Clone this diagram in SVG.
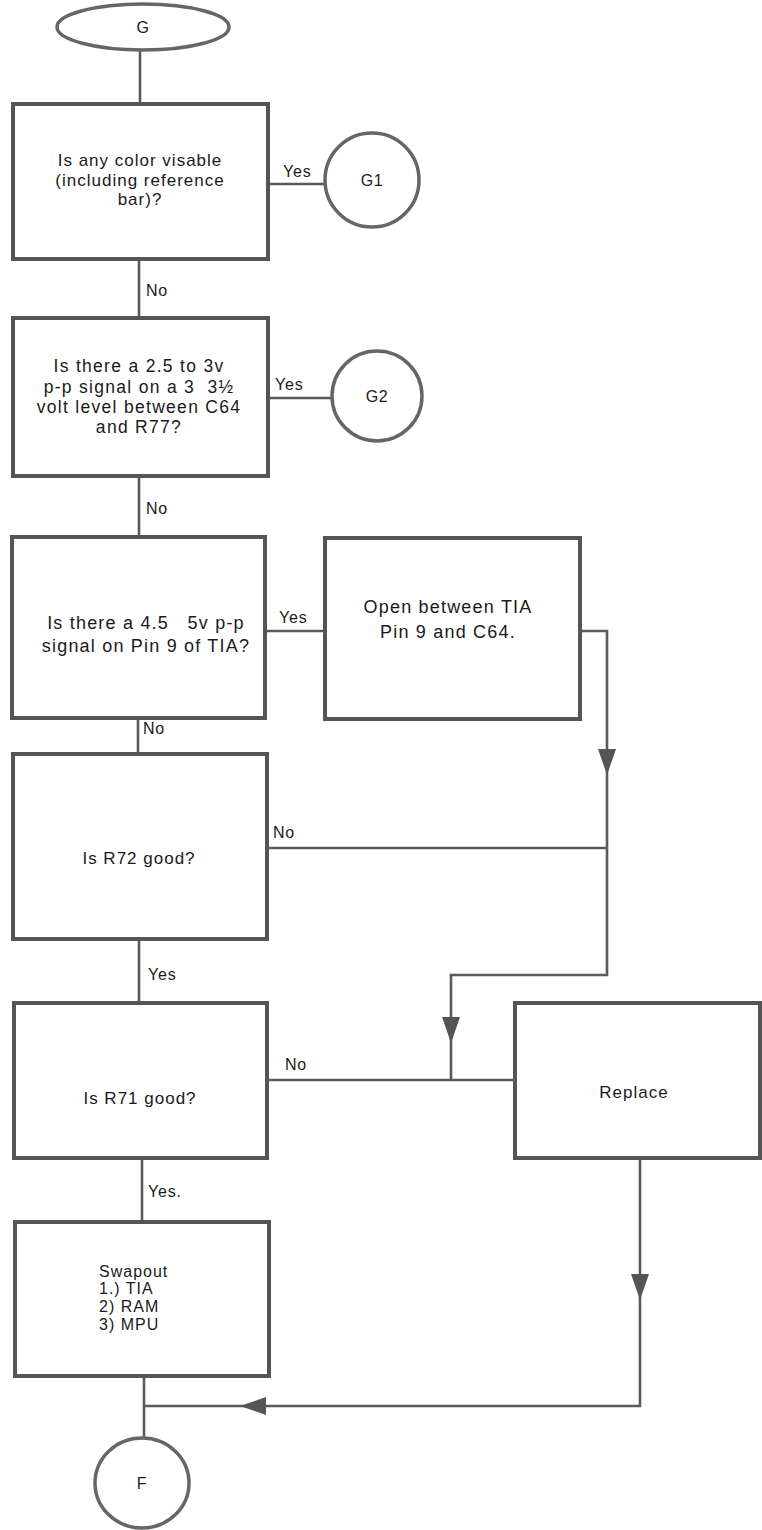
<svg xmlns="http://www.w3.org/2000/svg" width="762" height="1530" viewBox="0 0 762 1530">
<style>
.box{fill:#fff;stroke:#555;stroke-width:4}
.term{fill:#fff;stroke:#666;stroke-width:3.5}
.conn{fill:none;stroke:#5a5a5a;stroke-width:2.6}
text{font-family:"Liberation Sans","DejaVu Sans",sans-serif;fill:#1a1a1a}
.t17{font-size:17px;letter-spacing:1px;text-anchor:middle}
.t175{font-size:17.5px;letter-spacing:1.3px;text-anchor:middle}
.t18{font-size:18px;letter-spacing:1.2px;text-anchor:middle}
.sw{font-size:16px;letter-spacing:1px}
.lbl{font-size:16px;letter-spacing:0.8px}
.sym{font-size:16px;letter-spacing:0.5px;text-anchor:middle}
</style>
<defs>
<marker id="arr" markerUnits="userSpaceOnUse" markerWidth="26" markerHeight="18" refX="26" refY="9" orient="auto">
<path d="M0,0 L26,9 L0,18 Z" fill="#555"/>
</marker>
</defs>
<rect width="762" height="1530" fill="#fff"/>
<g id="connectors">
<path class="conn" d="M140,50 V104"/>
<path class="conn" d="M268,184 H325"/>
<path class="conn" d="M139,259 V318"/>
<path class="conn" d="M268,398 H332"/>
<path class="conn" d="M139,476 V537"/>
<path class="conn" d="M265,631 H325"/>
<path class="conn" d="M138,718 V754"/>
<path class="conn" d="M580,631 H607 V775" marker-end="url(#arr)"/>
<path class="conn" d="M607,775 V975 H451 V1043" marker-end="url(#arr)"/>
<path class="conn" d="M451,1043 V1080"/>
<path class="conn" d="M267,848 H607"/>
<path class="conn" d="M139,939 V1003"/>
<path class="conn" d="M267,1080 H515"/>
<path class="conn" d="M142,1158 V1222"/>
<path class="conn" d="M640,1158 V1300" marker-end="url(#arr)"/>
<path class="conn" d="M640,1300 V1406 H240" marker-end="url(#arr)"/>
<path class="conn" d="M240,1406 H144"/>
<path class="conn" d="M144,1376 V1438"/>
<text class="lbl" x="283" y="177">Yes</text>
<text class="lbl" x="146" y="296">No</text>
<text class="lbl" x="275" y="390">Yes</text>
<text class="lbl" x="146" y="514">No</text>
<text class="lbl" x="279" y="623">Yes</text>
<text class="lbl" x="143" y="734">No</text>
<text class="lbl" x="273" y="838">No</text>
<text class="lbl" x="148" y="980">Yes</text>
<text class="lbl" x="285" y="1070">No</text>
<text class="lbl" x="148" y="1197">Yes.</text>
</g>
<g id="start-G">
<ellipse class="term" cx="143" cy="27" rx="86" ry="23"/>
<text class="sym" x="143" y="33">G</text>
</g>
<g id="q-color">
<rect class="box" x="13" y="104" width="255" height="155"/>
<text class="t17" x="140" y="166">Is any color visable</text>
<text class="t17" x="140" y="186">(including reference</text>
<text class="t17" x="140" y="205">bar)?</text>
</g>
<g id="G1">
<circle class="term" cx="372" cy="180" r="47"/>
<text class="sym" x="372" y="186">G1</text>
</g>
<g id="q-signal-c64">
<rect class="box" x="13" y="318" width="255" height="158"/>
<text class="t175" x="139" y="372">Is there a 2.5 to 3v</text>
<text class="t175" x="139" y="393" xml:space="preserve">p-p signal on a 3  3½</text>
<text class="t175" x="139" y="413">volt level between C64</text>
<text class="t175" x="139" y="433">and R77?</text>
</g>
<g id="G2">
<circle class="term" cx="377" cy="396" r="45"/>
<text class="sym" x="377" y="402">G2</text>
</g>
<g id="q-pin9">
<rect class="box" x="12" y="537" width="253" height="181"/>
<text class="t18" x="146" y="629" xml:space="preserve">Is there a 4.5   5v p-p</text>
<text class="t18" x="146" y="652">signal on Pin 9 of TIA?</text>
</g>
<g id="open-tia">
<rect class="box" x="325" y="538" width="255" height="181"/>
<text class="t18" x="448" y="613">Open between TIA</text>
<text class="t18" x="448" y="638">Pin 9 and C64.</text>
</g>
<g id="q-r72">
<rect class="box" x="13" y="754" width="254" height="185"/>
<text class="t17" x="139" y="864">Is R72 good?</text>
</g>
<g id="q-r71">
<rect class="box" x="14" y="1003" width="253" height="155"/>
<text class="t17" x="140" y="1104">Is R71 good?</text>
</g>
<g id="replace">
<rect class="box" x="515" y="1003" width="245" height="155"/>
<text class="t17" x="634" y="1098">Replace</text>
</g>
<g id="swapout">
<rect class="box" x="15" y="1222" width="254" height="154"/>
<text class="sw" x="99" y="1277">Swapout</text>
<text class="sw" x="99" y="1294">1.) TIA</text>
<text class="sw" x="99" y="1312">2) RAM</text>
<text class="sw" x="99" y="1330">3) MPU</text>
</g>
<g id="end-F">
<ellipse class="term" cx="142" cy="1483" rx="47" ry="45"/>
<text class="sym" x="142" y="1489">F</text>
</g>
</svg>
